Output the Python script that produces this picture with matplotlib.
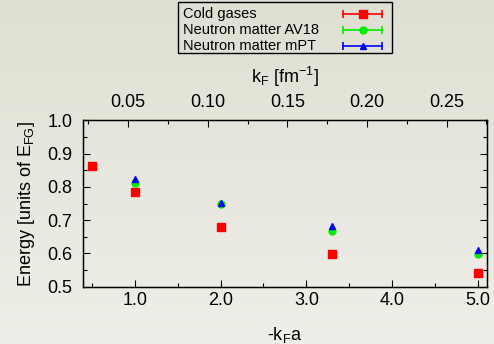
import numpy as np
import matplotlib
matplotlib.use("Agg")
import matplotlib.pyplot as plt
from matplotlib.lines import Line2D
from matplotlib.patches import Rectangle
from matplotlib.ticker import MultipleLocator, FormatStrFormatter

plt.rcParams["font.family"] = ["Liberation Sans", "DejaVu Sans"]
plt.rcParams["mathtext.fontset"] = "custom"
plt.rcParams["mathtext.rm"] = "Liberation Sans"
plt.rcParams["mathtext.it"] = "Liberation Sans:italic"

# data
cold_x = [0.5, 1.0, 2.0, 3.3, 5.0]
cold_y = [0.864, 0.785, 0.680, 0.599, 0.542]
av18_x = [1.0, 2.0, 3.3, 5.0]
av18_y = [0.812, 0.748, 0.667, 0.597]
mpt_x = [1.0, 2.0, 3.3, 5.0]
mpt_y = [0.823, 0.751, 0.682, 0.609]

series = [
    ("Cold gases", cold_x, cold_y, "#ff0000", "s", 5.5),
    ("Neutron matter AV18", av18_x, av18_y, "#00ee00", "o", 5),
    ("Neutron matter mPT", mpt_x, mpt_y, "#0000ff", "^", 5),
]

W, H = 494, 344
fig = plt.figure(figsize=(W / 100, H / 100), dpi=100)
bg = fig.add_axes([0, 0, 1, 1], zorder=-10)
grad = np.linspace(0, 1, 256)[:, None]
top_c = np.array([0.874, 0.874, 0.824])
bot_c = np.array([0.937, 0.937, 0.914])
img = top_c[None, None, :] * (1 - grad[:, :, None]) + bot_c[None, None, :] * grad[:, :, None]
bg.imshow(img, aspect="auto", extent=[0, 1, 0, 1])
bg.axis("off")

ax = fig.add_axes([0.1686, 0.1666, 0.8164, 0.4834])
ax.patch.set_alpha(0)

for label, xs, ys, col, mk, ms in series:
    ax.plot(xs, ys, ls="none", marker=mk, markersize=ms, color=col,
            label=label, zorder=3)

ax.set_xlim(0.4, 5.1)
ax.set_ylim(0.5, 1.0)
ax.xaxis.set_major_locator(MultipleLocator(1.0))
ax.xaxis.set_minor_locator(MultipleLocator(0.5))
ax.yaxis.set_major_locator(MultipleLocator(0.1))
ax.yaxis.set_minor_locator(MultipleLocator(0.05))
ax.xaxis.set_major_formatter(FormatStrFormatter("%.1f"))
ax.yaxis.set_major_formatter(FormatStrFormatter("%.1f"))
ax.tick_params(which="both", direction="in", top=False, right=True,
               labelsize=13, width=0.8)
ax.tick_params(which="major", length=5)
ax.tick_params(which="minor", length=3)
ax.tick_params(axis="x", pad=4)
ax.tick_params(axis="y", pad=8)
ax.set_xlabel(r"-k$_\mathrm{F}$a", fontsize=13, labelpad=11)
ax.set_ylabel(r"Energy [units of E$_\mathrm{FG}$]", fontsize=13, labelpad=7)
for sp in ax.spines.values():
    sp.set_linewidth(1.0)

ax2 = ax.twiny()
ax2.set_xlim(0.0219, 0.2751)
ax2.xaxis.set_major_locator(MultipleLocator(0.05))
ax2.xaxis.set_minor_locator(MultipleLocator(0.025))
ax2.xaxis.set_major_formatter(FormatStrFormatter("%.2f"))
ax2.tick_params(which="both", direction="in", labelsize=13, width=0.8, pad=7)
ax2.tick_params(which="major", length=5)
ax2.tick_params(which="minor", length=3)
ax2.set_xlabel(r"k$_\mathrm{F}$ [fm$^{-1}$]", fontsize=13, labelpad=8)

# gnuplot-style key: text on the left, bar with caps and point on the right
def px(x, y):
    return x / W, 1 - y / H

x0, y0 = px(178, 53)
x1, y1 = px(392, 2)
fig.add_artist(Rectangle((x0, y0), x1 - x0, y1 - y0, transform=fig.transFigure,
                         fill=False, edgecolor="black", lw=1.0))
row_y = [14, 30, 45.5]
for (label, xs, ys, col, mk, ms), ry in zip(series, row_y):
    tx, ty = px(183, ry)
    fig.text(tx, ty, label, fontsize=10.5, ha="left", va="center")
    lx0, ly = px(343, ry)
    lx1, _ = px(382, ry)
    fig.add_artist(Line2D([lx0, lx1], [ly, ly], color=col, lw=1.2,
                          transform=fig.transFigure))
    fig.add_artist(Line2D([lx0, lx1], [ly, ly], ls="none", marker="|",
                          markersize=6, mew=1.2, color=col,
                          transform=fig.transFigure))
    fig.add_artist(Line2D([(lx0 + lx1) / 2], [ly], ls="none", marker=mk,
                          markersize=ms, color=col, transform=fig.transFigure))

fig.savefig("out.png", dpi=100)
